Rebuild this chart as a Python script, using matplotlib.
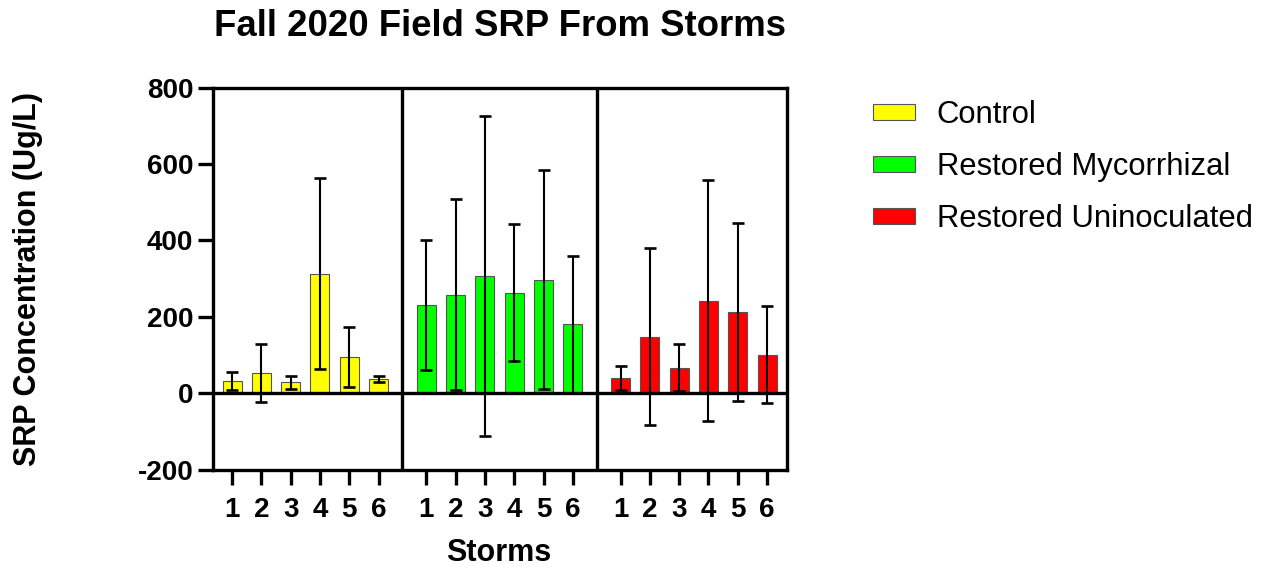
import matplotlib
matplotlib.use("Agg")
import matplotlib.pyplot as plt
import numpy as np

plt.rcParams['font.family'] = ['Liberation Sans', 'DejaVu Sans']
plt.rcParams['axes.unicode_minus'] = False

storms = ['1', '2', '3', '4', '5', '6']
groups = ['Control', 'Restored Mycorrhizal', 'Restored Uninoculated']
colors = ['#FFFF00', '#00FF00', '#FF0000']

control_mean = [31, 53, 28, 312, 95, 37]
control_err = [24, 76, 16, 250, 78, 8]
myco_mean = [230, 257, 307, 263, 297, 180]
myco_err = [170, 250, 418, 180, 286, 179]
unin_mean = [40, 148, 67, 242, 212, 101]
unin_err = [32, 232, 61, 316, 232, 126]

means = [control_mean, myco_mean, unin_mean]
errs = [control_err, myco_err, unin_err]

W, H = 1264, 570
fig = plt.figure(figsize=(W / 100, H / 100), dpi=100)
ax = fig.add_axes([213 / W, 1 - 469.5 / H, 574 / W, 382 / H])

lw = 2.4
group_offset = 6.63
bar_w = 0.65
n = len(storms)
handles = []
all_x = []
all_lab = []
for g in range(3):
    x = np.arange(n) + g * group_offset
    b = ax.bar(x, means[g], width=bar_w, color=colors[g], edgecolor='#555555',
               linewidth=0.8, zorder=2, label=groups[g])
    ax.errorbar(x, means[g], yerr=errs[g], fmt='none', ecolor='black',
                elinewidth=1.5, capsize=4.2, capthick=1.9, zorder=3)
    handles.append(b)
    all_x.extend(x)
    all_lab.extend(storms)

# dividers between groups
for g in range(2):
    ax.axvline(g * group_offset + (n - 1) + (group_offset - (n - 1)) / 2,
               color='black', lw=lw, zorder=4)
ax.axhline(0, color='black', lw=lw, zorder=4)

ax.set_xlim(-0.65, 2 * group_offset + (n - 1) + 0.68)
ax.set_ylim(-200, 800)
ax.set_yticks([-200, 0, 200, 400, 600, 800])
ax.set_xticks(all_x)
ax.set_xticklabels(all_lab)
for s in ax.spines.values():
    s.set_linewidth(lw)
ax.tick_params(axis='both', length=10.8, width=lw, direction='out')
ax.tick_params(axis='y', pad=3.5, labelsize=20)
ax.tick_params(axis='x', pad=9, labelsize=20)
for lab in ax.get_xticklabels() + ax.get_yticklabels():
    lab.set_fontweight('bold')

fig.text(500 / W, 1 - 27 / H, 'Fall 2020 Field SRP From Storms', ha='center',
         va='center', fontsize=26.3, fontweight='bold')
fig.text(28 / W, 1 - 279 / H, 'SRP Concentration (Ug/L)', rotation=90,
         ha='center', va='center', fontsize=22, fontweight='bold')
fig.text(499 / W, 1 - 553 / H, 'Storms', ha='center', va='center',
         fontsize=22, fontweight='bold')

fig.legend(handles=handles, labels=groups, loc='upper left',
           bbox_to_anchor=(873 / W, 1 - 100 / H), frameon=False,
           fontsize=22.3, handlelength=1.35, handleheight=0.46,
           handletextpad=0.71, labelspacing=0.71, borderpad=0,
           borderaxespad=0)

fig.savefig('out.png', dpi=100)
